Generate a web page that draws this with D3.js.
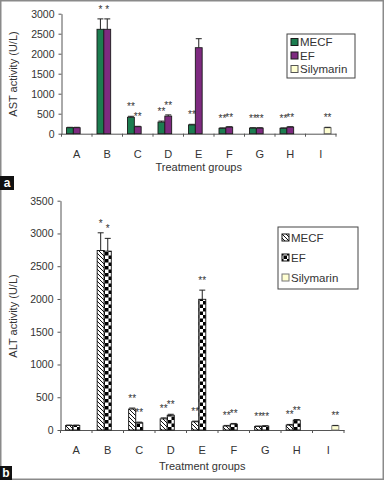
<!DOCTYPE html>
<html>
<head>
<meta charset="utf-8">
<script src="https://cdn.jsdelivr.net/npm/d3@7"></script>
<style>
  body { margin: 0; background: #fff; }
  text { font-family: "Liberation Sans", Arial, sans-serif; }
</style>
</head>
<body>
<div id="chart"></div>
<script>
// categories and series
const groups = ["A", "B", "C", "D", "E", "F", "G", "H", "I"];
const series = ["MECF", "EF", "Silymarin"];

// panel a: AST activity (U/L)
const astMecf = [150, 2610, 410, 290, 220, 135, 140, 135, null];
const astEf = [150, 2610, 175, 440, 2150, 165, 140, 165, null];
const astSily = [null, null, null, null, null, null, null, null, 150];
const astMecfErr = [10, 260, 25, 25, 15, 10, 10, 10, null];
const astEfErr = [10, 260, 10, 30, 225, 10, 10, 10, null];
const astSilyErr = [null, null, null, null, null, null, null, null, 10];
const astMecfStars = ["", "*", "**", "**", "**", "**", "**", "**", ""];
const astEfStars = ["", "*", "**", "**", "", "**", "**", "**", ""];
const astSilyStars = ["", "", "", "", "", "", "", "", "**"];
const astTicks = [0, 500, 1000, 1500, 2000, 2500, 3000];

// panel b: ALT activity (U/L)
const altMecf = [70, 2740, 320, 170, 125, 60, 55, 75, null];
const altEf = [70, 2730, 110, 225, 1995, 90, 60, 150, null];
const altSily = [null, null, null, null, null, null, null, null, 65];
const altMecfErr = [5, 270, 15, 15, 10, 10, 5, 10, null];
const altEfErr = [5, 195, 10, 15, 140, 10, 5, 10, null];
const altSilyErr = [null, null, null, null, null, null, null, null, 5];
const altMecfStars = ["", "*", "**", "**", "**", "**", "**", "**", ""];
const altEfStars = ["", "*", "**", "**", "**", "**", "**", "**", ""];
const altSilyStars = ["", "", "", "", "", "", "", "", "**"];
const altTicks = [0, 500, 1000, 1500, 2000, 2500, 3000, 3500];

const W = 384, H = 480;

const svg = d3.select("#chart").append("svg")
    .attr("width", W)
    .attr("height", H);

// fill patterns for panel b
const defs = svg.append("defs");
const hatch = defs.append("pattern")
    .attr("id", "hatch")
    .attr("patternUnits", "userSpaceOnUse")
    .attr("width", 4).attr("height", 4);
hatch.append("rect").attr("width", 4).attr("height", 4).attr("fill", "#fff");
hatch.append("path")
    .attr("d", "M-1,-1 L5,5 M-1,3 L1,5 M3,-1 L5,1")
    .attr("stroke", "#111").attr("stroke-width", 1);

const checker = defs.append("pattern")
    .attr("id", "checker")
    .attr("patternUnits", "userSpaceOnUse")
    .attr("width", 7).attr("height", 7);
checker.append("rect").attr("width", 7).attr("height", 7).attr("fill", "#fff");
checker.append("rect").attr("width", 3.5).attr("height", 3.5).attr("fill", "#000");
checker.append("rect").attr("x", 3.5).attr("y", 3.5).attr("width", 3.5).attr("height", 3.5).attr("fill", "#000");

// outer frame
svg.append("rect")
    .attr("x", 0.75).attr("y", 0.75)
    .attr("width", W - 1.5).attr("height", H - 1.5)
    .attr("fill", "none")
    .attr("stroke", "#8a8a8a")
    .attr("stroke-width", 1.5);

function drawPanel(p) {
    const g = svg.append("g");

    const x0 = d3.scaleBand().domain(groups).range(p.xRange);
    const x1 = d3.scaleBand().domain(series).range([0, x0.bandwidth()])
        .paddingInner(0).paddingOuter(0.73);
    const y = d3.scaleLinear().domain(p.yDomain).range(p.yRange);

    // y axis
    const yAxis = g.append("g")
        .attr("transform", `translate(${p.xRange[0]},0)`)
        .call(d3.axisLeft(y).tickValues(p.ticks).tickFormat(d3.format("d"))
            .tickSize(3).tickSizeOuter(0).tickPadding(4));
    yAxis.selectAll("path, line").attr("stroke", "#555");
    yAxis.selectAll("text").attr("fill", "#333").style("font-size", "10.5px");

    // x axis: labels centred on groups, ticks between groups
    const xAxis = g.append("g")
        .attr("transform", `translate(0,${y(0)})`)
        .call(d3.axisBottom(x0).tickSize(0).tickPadding(16.5));
    xAxis.select(".domain").attr("stroke", "#555");
    xAxis.selectAll("text").attr("fill", "#333").style("font-size", "11px");
    const bounds = groups.map(d => x0(d)).concat([p.xRange[1]]);
    g.selectAll(".xtick").data(bounds).enter().append("line")
        .attr("x1", d => d).attr("x2", d => d)
        .attr("y1", y(0)).attr("y2", y(0) + 3)
        .attr("stroke", "#555");

    // bars, error bars and stars
    p.bars.forEach((s, si) => {
        const name = series[si];
        const items = groups.map((grp, i) => ({grp, v: s.values[i], e: s.errs[i], star: s.stars[i]}))
            .filter(d => d.v != null);
        const cx = d => x0(d.grp) + x1(name) + x1.bandwidth() / 2;

        g.selectAll(".bar-" + si).data(items).enter().append("rect")
            .attr("x", d => x0(d.grp) + x1(name))
            .attr("y", d => y(d.v))
            .attr("width", x1.bandwidth())
            .attr("height", d => y(0) - y(d.v))
            .attr("fill", s.fill)
            .attr("stroke", s.stroke)
            .attr("stroke-width", 0.9);

        const eb = items.filter(d => d.e);
        g.selectAll(".err-" + si).data(eb).enter().append("path")
            .attr("d", d => {
                const c = cx(d), top = y(d.v + d.e);
                return `M${c},${y(d.v)}V${top}M${c - 3},${top}H${c + 3}`;
            })
            .attr("fill", "none")
            .attr("stroke", "#222")
            .attr("stroke-width", 1);

        g.selectAll(".star-" + si).data(items.filter(d => d.star)).enter().append("text")
            .attr("x", cx)
            .attr("y", d => y(d.v + (d.e || 0)) - 6)
            .attr("text-anchor", "middle")
            .attr("fill", "#333")
            .style("font-size", "10px")
            .text(d => d.star);
    });

    // axis titles
    g.append("text")
        .attr("x", (p.xRange[0] + p.xRange[1]) / 2)
        .attr("y", p.xTitleY)
        .attr("text-anchor", "middle")
        .attr("fill", "#333")
        .style("font-size", "11px")
        .text("Treatment groups");

    g.append("text")
        .attr("transform", `translate(16.5,${p.yTitleY}) rotate(-90)`)
        .attr("text-anchor", "middle")
        .attr("fill", "#333")
        .style("font-size", "11px")
        .text(p.yTitle);

    // legend
    const lg = g.append("g");
    lg.append("rect")
        .attr("x", p.legend.x).attr("y", p.legend.y)
        .attr("width", p.legend.w).attr("height", p.legend.h)
        .attr("fill", "#fff")
        .attr("stroke", "#444");
    p.bars.forEach((s, si) => {
        const cy = p.legend.y + p.legend.first + si * p.legend.step;
        lg.append("rect")
            .attr("x", p.legend.x + 4).attr("y", cy - 3.5)
            .attr("width", 7).attr("height", 7)
            .attr("fill", s.fill)
            .attr("stroke", s.stroke);
        lg.append("text")
            .attr("x", p.legend.x + 13)
            .attr("y", cy + 4)
            .attr("fill", "#333")
            .style("font-size", "11.5px")
            .text(series[si]);
    });

    // panel letter
    svg.append("rect")
        .attr("x", 0).attr("y", p.tag.y)
        .attr("width", p.tag.w).attr("height", 14)
        .attr("fill", "#111");
    svg.append("text")
        .attr("x", p.tag.w / 2).attr("y", p.tag.y + 11)
        .attr("text-anchor", "middle")
        .attr("fill", "#fff")
        .style("font-size", "12px")
        .style("font-weight", "bold")
        .text(p.tag.label);
}

drawPanel({
    xRange: [61.5, 336],
    yRange: [133.7, 13.7],
    yDomain: [0, 3000],
    ticks: astTicks,
    yTitle: "AST activity (U/L)",
    yTitleY: 74,
    xTitleY: 171,
    bars: [
        {values: astMecf, errs: astMecfErr, stars: astMecfStars, fill: "#1c7d50", stroke: "#1a1a1a"},
        {values: astEf, errs: astEfErr, stars: astEfStars, fill: "#7e2a80", stroke: "#1a1a1a"},
        {values: astSily, errs: astSilyErr, stars: astSilyStars, fill: "#ffffd2", stroke: "#555"}
    ],
    legend: {x: 287, y: 34, w: 68, h: 44, first: 8, step: 13.5},
    tag: {y: 176, w: 14, label: "a"}
});

drawPanel({
    xRange: [60.5, 344],
    yRange: [430, 200.7],
    yDomain: [0, 3500],
    ticks: altTicks,
    yTitle: "ALT activity (U/L)",
    yTitleY: 316,
    xTitleY: 470,
    bars: [
        {values: altMecf, errs: altMecfErr, stars: altMecfStars, fill: "url(#hatch)", stroke: "#111"},
        {values: altEf, errs: altEfErr, stars: altEfStars, fill: "url(#checker)", stroke: "#111"},
        {values: altSily, errs: altSilyErr, stars: altSilyStars, fill: "#ffffd2", stroke: "#777"}
    ],
    legend: {x: 278, y: 227, w: 80, h: 62, first: 10.5, step: 20},
    tag: {y: 466, w: 12, label: "b"}
});
</script>
</body>
</html>
